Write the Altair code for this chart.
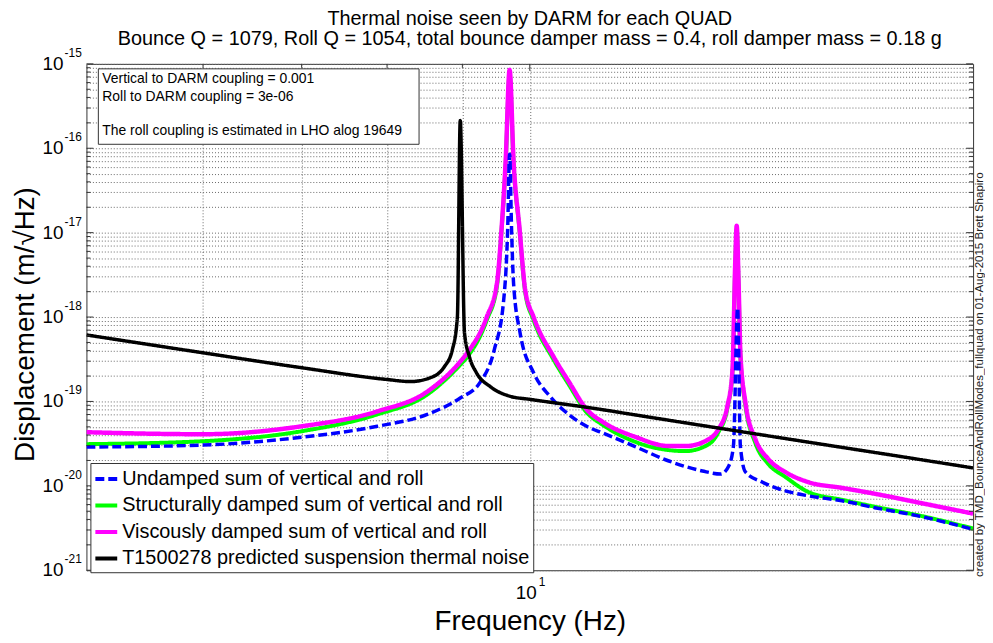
import altair as alt
import pandas as pd

FONT = "Liberation Sans"

# ---------------- data ----------------
series_names = [
    "Undamped sum of vertical and roll",
    "Structurally damped sum of vertical and roll",
    "Viscously damped sum of vertical and roll",
    "T1500278 predicted suspension thermal noise",
]
series_colors = ["#0000ff", "#00ff00", "#ff00ff", "#000000"]
series_dash = [[9, 4], [1, 0], [1, 0], [1, 0]]

freq_undamped = [5.0, 6.0, 7.0, 7.88, 8.52, 8.97, 9.25, 9.46, 9.60, 9.66, 9.69, 9.72,
                 9.75, 9.85, 10.06, 10.32, 10.64, 10.93, 11.22, 11.81, 12.43, 13.10,
                 13.48, 13.65, 13.75, 13.84, 13.90, 14.01, 14.38, 14.91, 15.45, 16.29,
                 17.15, 18.53, 20.0]
disp_undamped = [2.88e-20, 3.04e-20, 3.77e-20, 5.08e-20, 7.03e-20, 1.10e-19, 1.67e-19,
                 4.09e-19, 1.58e-18, 1.06e-17, 8.5e-17, 1.06e-17, 2.51e-18, 6.48e-19,
                 2.19e-19, 1.15e-19, 6.9e-20, 5.08e-20, 4.2e-20, 2.88e-20, 1.97e-20,
                 1.50e-20, 1.38e-20, 1.72e-20, 2.96e-20, 1.28e-18, 2.96e-20, 1.46e-20,
                 1.11e-20, 8.73e-21, 7.63e-21, 6.66e-21, 5.51e-21, 4.25e-21, 3.05e-21]

freq_damped = [5.0, 6.0, 7.0, 7.88, 8.52, 8.97, 9.07, 9.35, 9.50, 9.57, 9.63, 9.69,
               9.75, 9.84, 9.93, 10.06, 10.38, 10.64, 10.93, 11.22, 11.81, 12.43,
               12.76, 13.23, 13.43, 13.62, 13.73, 13.79, 13.82, 13.86, 13.90, 14.01,
               14.23, 14.52, 14.91, 15.45, 16.29, 17.15, 18.53, 20.0]
disp_structural = [3.12e-20, 3.38e-20, 4.44e-20, 7.03e-20, 1.21e-19, 2.72e-19, 3.38e-19,
                   9.22e-19, 2.32e-18, 1.1e-17, 6.5e-17, 7.5e-16, 6.5e-17, 1.1e-17,
                   1.95e-18, 9.22e-19, 3.12e-19, 1.54e-19, 7.43e-20, 5.22e-20, 3.29e-20,
                   2.65e-20, 2.58e-20, 3.12e-20, 4.32e-20, 8.28e-20, 2.25e-19, 4.4e-18,
                   1.1e-17, 2.5e-18, 3.48e-19, 8.97e-20, 3.21e-20, 1.82e-20, 1.28e-20,
                   8.5e-21, 6.84e-21, 5.66e-21, 4.32e-21, 3.12e-21]
disp_viscous = [4.32e-20, 4.09e-20, 5.08e-20, 7.63e-20, 1.31e-19, 2.96e-19, 3.77e-19,
                1.0e-18, 2.51e-18, 1.15e-17, 7.03e-17, 8.5e-16, 7.03e-17, 1.15e-17,
                2.08e-18, 1.0e-18, 3.38e-19, 1.67e-19, 8.06e-20, 5.66e-20, 3.77e-20,
                2.96e-20, 2.96e-20, 3.57e-20, 4.69e-20, 8.73e-20, 2.38e-19, 4.69e-18,
                1.21e-17, 2.72e-18, 3.77e-19, 9.73e-20, 3.57e-20, 2.08e-20, 1.46e-20,
                1.11e-20, 9.46e-21, 8.06e-21, 6.14e-21, 4.69e-21]

freq_t1500278 = [5.0, 6.0, 7.0, 8.0, 8.3, 8.56, 8.75, 8.86, 8.93, 8.97, 9.03, 9.1, 9.2,
                 9.4, 9.7, 10.0, 11.0, 12.0, 14.0, 16.0, 18.0, 20.0]
disp_t1500278 = [6.14e-19, 3.77e-19, 2.51e-19, 1.82e-19, 1.72e-19, 1.91e-19, 2.58e-19,
                 4.09e-19, 1.0e-18, 2.13e-16, 6.48e-19, 3.38e-19, 2.19e-19, 1.50e-19,
                 1.15e-19, 1.06e-19, 8.39e-20, 6.6e-20, 4.32e-20, 3.0e-20, 2.18e-20,
                 1.63e-20]

x_grid = [6, 7, 8, 9, 10]
x_minor_ticks = [6, 7, 8, 9]
x_major_ticks = [10]
y_exponents = [-21, -20, -19, -18, -17, -16, -15]

title_lines = [
    "Thermal noise seen by DARM for each QUAD",
    "Bounce Q = 1079, Roll Q = 1054, total bounce damper mass = 0.4, roll damper mass = 0.18 g",
]
annotation_lines = [
    "Vertical to DARM coupling = 0.001",
    "Roll to DARM coupling = 3e-06",
    "The roll coupling is estimated in LHO alog 19649",
]
credit_text = "created by TMD_BounceAndRollModes_fullquad on 01-Aug-2015 Brett Shapiro"
x_title = "Frequency (Hz)"
y_title = "Displacement (m/\u221aHz)"

# ---------------- derived tables ----------------
W, H = 893, 510

y_major = [10.0 ** e for e in y_exponents]
y_minor = [m * 10.0 ** e for e in y_exponents[:-1] for m in range(2, 10)]
y_grid = sorted(y_major + y_minor)

series_data = {
    series_names[0]: (freq_undamped, disp_undamped),
    series_names[1]: (freq_damped, disp_structural),
    series_names[2]: (freq_damped, disp_viscous),
    series_names[3]: (freq_t1500278, disp_t1500278),
}

xscale = alt.Scale(type="log", domain=[5, 20], nice=False)
yscale = alt.Scale(type="log", domain=[1e-21, 1e-15], nice=False)

grid_style = dict(grid=True, gridDash=[1, 2], gridColor="#6a6a6a", gridWidth=1,
                  gridOpacity=1, labels=False, ticks=False, domain=False,
                  titleFont=FONT, titleFontSize=28, titleFontWeight="normal",
                  titleColor="black", titleAlign="center", titleBaseline="alphabetic")
xaxis = alt.Axis(values=x_grid, title=x_title, titleX=W / 2, titleY=60, **grid_style)
yaxis = alt.Axis(values=y_grid, title=y_title, titleAngle=270, titleX=-53,
                 titleY=262, **grid_style)

X = alt.X("f:Q", scale=xscale, axis=xaxis)
Y = alt.Y("v:Q", scale=yscale, axis=yaxis)

LEG = alt.Legend(orient="none", legendX=4, legendY=402, title=None,
                 symbolType="stroke", symbolSize=484, symbolStrokeWidth=4,
                 labelFont=FONT, labelFontSize=20, labelColor="black",
                 labelLimit=600, labelOffset=3, padding=3, rowPadding=3.7,
                 strokeColor="#333333", fillColor="white")
color = alt.Color("series:N", scale=alt.Scale(domain=series_names, range=series_colors),
                  legend=LEG)
dash = alt.StrokeDash("series:N", scale=alt.Scale(domain=series_names, range=series_dash),
                      legend=LEG)

def series_df(name):
    fl, dl = series_data[name]
    return pd.DataFrame({"series": name, "f": fl, "v": dl})

widths = {series_names[0]: 3.5, series_names[1]: 4, series_names[2]: 4.5,
          series_names[3]: 3.5}
draw_order = [series_names[1], series_names[2], series_names[0], series_names[3]]

line_layers = [
    alt.Chart(series_df(n)).mark_line(strokeWidth=widths[n], strokeJoin="round",
                                      interpolate="monotone", clip=True)
    .encode(x=X, y=Y, color=color, strokeDash=dash)
    for n in draw_order
]

# inside ticks on the frame
ymaj_df = pd.DataFrame({"v": y_major})
ymin_df = pd.DataFrame({"v": y_minor})
tick_col = "#333333"
tick_layers = []
for d, ln in ((ymaj_df, 7), (ymin_df, 4)):
    tick_layers.append(alt.Chart(d).mark_rule(color=tick_col)
                       .encode(y=Y, x=alt.value(0), x2=alt.value(ln)))
    tick_layers.append(alt.Chart(d).mark_rule(color=tick_col)
                       .encode(y=Y, x=alt.value(W), x2=alt.value(W - ln)))
for vals, ln in ((x_minor_ticks, 4), (x_major_ticks, 7)):
    d = pd.DataFrame({"f": vals})
    tick_layers.append(alt.Chart(d).mark_rule(color=tick_col)
                       .encode(x=X, y=alt.value(H), y2=alt.value(H - ln)))
    tick_layers.append(alt.Chart(d).mark_rule(color=tick_col)
                       .encode(x=X, y=alt.value(0), y2=alt.value(ln)))

# tick labels as 10 with a raised exponent
ylab_df = pd.DataFrame({"v": y_major, "base": "10", "exp": [str(e) for e in y_exponents]})
ylab_base = alt.Chart(ylab_df).mark_text(font=FONT, fontSize=19, align="right",
                                         baseline="middle", color="black").encode(
    y=Y, x=alt.value(-23), text="base:N")
ylab_exp = alt.Chart(ylab_df).mark_text(font=FONT, fontSize=12, align="left",
                                        baseline="middle", dy=-11, color="black").encode(
    y=Y, x=alt.value(-22), text="exp:N")
xlab_df = pd.DataFrame({"f": x_major_ticks, "base": "10", "exp": "1"})
xlab_base = alt.Chart(xlab_df).mark_text(font=FONT, fontSize=19, align="right",
                                         baseline="alphabetic", dx=7, color="black").encode(
    x=X, y=alt.value(H + 29), text="base:N")
xlab_exp = alt.Chart(xlab_df).mark_text(font=FONT, fontSize=12, align="left",
                                        baseline="alphabetic", dx=9, color="black").encode(
    x=X, y=alt.value(H + 16), text="exp:N")

one = pd.DataFrame({"k": [0]})
title1 = alt.Chart(one).mark_text(text=title_lines[0], font=FONT, fontSize=20,
                                  align="center", baseline="alphabetic",
                                  color="black").encode(
    x=alt.value(W / 2), y=alt.value(-39))
title2 = alt.Chart(one).mark_text(text=title_lines[1], font=FONT, fontSize=20,
                                  align="center", baseline="alphabetic",
                                  color="black").encode(
    x=alt.value(W / 2), y=alt.value(-19))
note_box = alt.Chart(one).mark_rect(fill="white", stroke="#333333", strokeWidth=1).encode(
    x=alt.value(12), x2=alt.value(335), y=alt.value(5), y2=alt.value(81))
note_text1 = alt.Chart(one).mark_text(text=annotation_lines[:2], font=FONT, fontSize=14,
                                      align="left", baseline="middle", lineHeight=17.5,
                                      color="black").encode(
    x=alt.value(16), y=alt.value(15.5))
note_text2 = alt.Chart(one).mark_text(text=annotation_lines[2], font=FONT, fontSize=14,
                                      align="left", baseline="middle",
                                      color="black").encode(
    x=alt.value(16), y=alt.value(68))
credit = alt.Chart(one).mark_text(text=credit_text, font=FONT, fontSize=11.6, angle=270,
                                  align="center", baseline="middle", color="#222222").encode(
    x=alt.value(900), y=alt.value(313))

chart = alt.layer(
    *line_layers, *tick_layers, ylab_base, ylab_exp, xlab_base, xlab_exp,
    note_box, note_text1, note_text2, credit, title1, title2,
).properties(
    width=W, height=H,
    autosize=alt.AutoSizeParams(type="none"),
    padding={"left": 79, "top": 54, "right": 12, "bottom": 69},
).configure_view(stroke="#333333", strokeWidth=1)

chart.save("out.html", embed_options={"renderer": "svg", "actions": False})
